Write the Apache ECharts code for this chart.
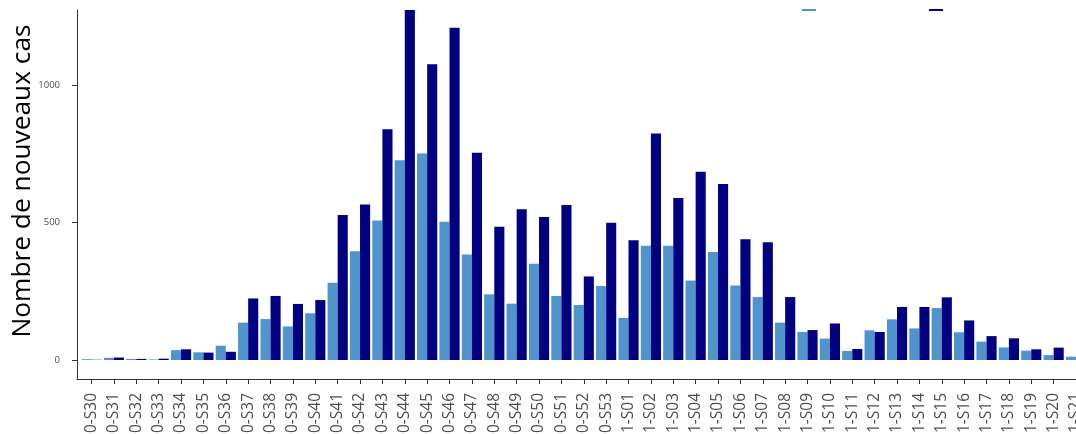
<!DOCTYPE html>
<html>
<head>
<meta charset="utf-8">
<script src="https://cdn.jsdelivr.net/npm/echarts@6/dist/echarts.min.js"></script>
<style>
  html, body { margin: 0; padding: 0; background: #ffffff; overflow: hidden; }
  #chart { width: 1076px; height: 434px; }
</style>
</head>
<body>
<div id="chart"></div>
<script>
// Semaines épidémiologiques (année-semaine)
const weeks = [
  '2020-S30', '2020-S31', '2020-S32', '2020-S33', '2020-S34', '2020-S35', '2020-S36',
  '2020-S37', '2020-S38', '2020-S39', '2020-S40', '2020-S41', '2020-S42', '2020-S43',
  '2020-S44', '2020-S45', '2020-S46', '2020-S47', '2020-S48', '2020-S49', '2020-S50',
  '2020-S51', '2020-S52', '2020-S53', '2021-S01', '2021-S02', '2021-S03', '2021-S04',
  '2021-S05', '2021-S06', '2021-S07', '2021-S08', '2021-S09', '2021-S10', '2021-S11',
  '2021-S12', '2021-S13', '2021-S14', '2021-S15', '2021-S16', '2021-S17', '2021-S18',
  '2021-S19', '2021-S20', '2021-S21'
];

// Nouveaux cas par semaine, série claire
const casConfirmes = [
  3, 8, 4, 2, 36, 28, 52,
  136, 149, 122, 170, 281, 396, 507,
  727, 751, 503, 384, 239, 205, 350,
  233, 200, 269, 153, 416, 416, 289,
  393, 271, 229, 136, 102, 78, 33,
  108, 148, 115, 189, 101, 67, 46,
  34, 18, 12
];

// Nouveaux cas par semaine, série foncée
const casSignales = [
  1, 9, 4, 5, 39, 27, 30,
  224, 233, 204, 218, 527, 566, 839,
  1280, 1076, 1208, 754, 485, 548, 520,
  564, 304, 499, 436, 824, 589, 685,
  640, 439, 428, 229, 109, 133, 40,
  102, 193, 193, 228, 144, 87, 79,
  39, 45, 20
];

const seriesNames = ['Cas confirmés', 'Cas signalés'];
const yTicks = [0, 500, 1000];

const FONT = '"Open Sans", "DejaVu Sans", sans-serif';
const AXIS_COLOR = '#333333';
const TEXT_GREY = '#4d4d4d';

const weekIdx = weeks.map((_, i) => i);

// Legend entries: a thin key, with its label lifted above it
function legendAt(name, left) {
  return {
    data: [name], left: left, top: -18, padding: 0,
    icon: 'rect', itemWidth: 14, itemHeight: 2,
    formatter: '{lbl|{name}}',
    textStyle: {
      fontFamily: FONT, fontSize: 12, color: '#000',
      rich: { lbl: { fontFamily: FONT, fontSize: 12, color: '#000', padding: [0, 0, 44, 0] } }
    }
  };
}

const chart = echarts.init(document.getElementById('chart'), null, { renderer: 'canvas' });

chart.setOption({
  animation: false,
  backgroundColor: '#ffffff',
  grid: {
    left: 77, right: 0, top: 10, bottom: 55,
    containLabel: false,
    outerBoundsMode: 'none'
  },
  legend: [legendAt(seriesNames[0], 802), legendAt(seriesNames[1], 929)],
  xAxis: {
    type: 'value',
    min: -0.65,
    max: 44,
    splitLine: { show: false },
    axisLine: { show: true, onZero: false, lineStyle: { color: AXIS_COLOR, width: 1 } },
    axisTick: { show: true, length: 5, customValues: weekIdx, lineStyle: { color: AXIS_COLOR } },
    axisLabel: {
      customValues: weekIdx,
      rotate: 90,
      margin: 14,
      fontSize: 15.5,
      color: TEXT_GREY,
      fontFamily: FONT,
      formatter: v => weeks[Math.round(v)] || ''
    }
  },
  yAxis: {
    type: 'value',
    min: -69,
    max: 1273,
    splitLine: { show: false },
    axisLine: { show: true, onZero: false, lineStyle: { color: AXIS_COLOR, width: 1 } },
    axisTick: { show: true, length: 5, customValues: yTicks, lineStyle: { color: AXIS_COLOR } },
    axisLabel: {
      customValues: yTicks,
      margin: 17,
      fontSize: 9.5,
      color: TEXT_GREY,
      fontFamily: FONT,
      formatter: v => String(v)
    },
    name: 'Nombre de nouveaux cas',
    nameLocation: 'middle',
    nameRotate: 90,
    nameGap: 41,
    nameMoveOverlap: false,
    nameTextStyle: { fontSize: 26.3, color: '#000000', fontFamily: FONT, padding: [0, 0, 0, 27] }
  },
  series: [
    {
      name: seriesNames[0],
      type: 'bar',
      data: casConfirmes.map((v, i) => [i, v]),
      barWidth: 10.1,
      barGap: '0%',
      clip: true,
      itemStyle: { color: '#4F94CD' }
    },
    {
      name: seriesNames[1],
      type: 'bar',
      data: casSignales.map((v, i) => [i, v]),
      barWidth: 10.1,
      barGap: '0%',
      clip: true,
      itemStyle: { color: '#000080' }
    }
  ]
});
</script>
</body>
</html>
